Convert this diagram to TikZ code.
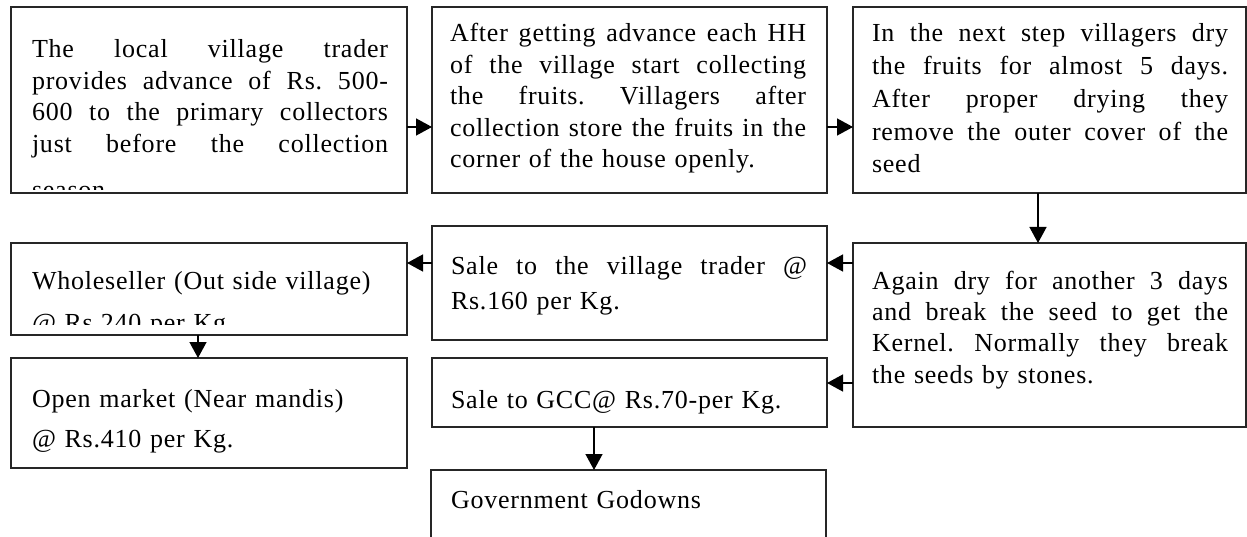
\documentclass[tikz,border=0pt]{standalone}
\usepackage{fontspec}
\setmainfont{Liberation Serif}[LetterSpace=3]
\usetikzlibrary{arrows.meta}
\newlength{\tw}
\setlength{\tw}{356pt}
\newcommand{\jline}[1]{\makebox[\tw][s]{\frenchspacing\spaceskip=0.28em plus 1fill\relax\xspaceskip=\spaceskip #1}}
\setlength{\parindent}{0pt}
\begin{document}
\begin{tikzpicture}[x=1pt,y=-1pt,
  box/.style={draw=black!85, line width=1.5pt, rectangle, inner sep=0pt, outer sep=0pt, anchor=north west},
  txt/.style={anchor=north west, inner sep=0pt, outer sep=0pt, text width=356pt, align=left, font=\fontsize{26}{31.5}\selectfont},
  arr/.style={draw=black, line width=1.4pt, -{Triangle[length=16pt,width=17pt]}}]
\clip (0,0) rectangle (1247,537);
\fill[white] (0,0) rectangle (1247,537);
% boxes
\node[box, minimum width=396pt, minimum height=186pt] (b1) at (11,7) {};
\node[box, minimum width=395pt, minimum height=186pt] (b2) at (432,7) {};
\node[box, minimum width=393pt, minimum height=186pt] (b3) at (853,7) {};
\node[box, minimum width=393pt, minimum height=184pt] (b4) at (853,243) {};
\node[box, minimum width=395pt, minimum height=114pt] (b5) at (432,226) {};
\node[box, minimum width=395pt, minimum height=69pt] (b6) at (432,358) {};
\node[box, minimum width=395pt, minimum height=100pt] (b7) at (431,470) {};
\node[box, minimum width=396pt, minimum height=92pt] (b8) at (11,243) {};
\node[box, minimum width=396pt, minimum height=110pt] (b9) at (11,358) {};
% texts
\begin{scope}
\clip (12,8) rectangle (406,190);
\node[txt] (t1) at (32,34) {\rule{0pt}{24pt}\jline{The local village trader}\\
\jline{provides advance of Rs. 500-}\\
\jline{600 to the primary collectors}\\
\jline{just before the collection}\\[15pt]
season};
\end{scope}
\node[txt] (t2) at (450,18) {\rule{0pt}{24pt}\jline{After getting advance each HH}\\
\jline{of the village start collecting}\\
\jline{the fruits. Villagers after}\\
\jline{collection store the fruits in the}\\
corner of the house openly.};
\node[txt, font=\fontsize{26}{32.7}\selectfont] (t3) at (872,18) {\rule{0pt}{24pt}\jline{In the next step villagers dry}\\
\jline{the fruits for almost 5 days.}\\
\jline{After proper drying they}\\
\jline{remove the outer cover of the}\\
seed};
\node[txt, font=\fontsize{26}{31}\selectfont] (t4) at (872,266) {\rule{0pt}{24pt}\jline{Again dry for another 3 days}\\
\jline{and break the seed to get the}\\
\jline{Kernel. Normally they break}\\
the seeds by stones.};
\node[txt, font=\fontsize{26}{35}\selectfont] (t5) at (451,251) {\rule{0pt}{24pt}\jline{Sale to the village trader @}\\
Rs.160 per Kg.};
\node[txt] (t6) at (451,384) {\rule{0pt}{24pt}Sale to GCC@ Rs.70-per Kg.};
\node[txt] (t7) at (451,484) {\rule{0pt}{24pt}Government Godowns};
\begin{scope}
\clip (12,244) rectangle (406,324);
\node[txt, font=\fontsize{26}{42}\selectfont] (t8) at (32,266) {\rule{0pt}{24pt}Wholeseller (Out side village)\\
@ Rs.240 per Kg.};
\end{scope}
\node[txt, font=\fontsize{26}{40}\selectfont] (t9) at (32,383) {\rule{0pt}{24pt}Open market (Near mandis)\\
@ Rs.410 per Kg.};
% connectors
\coordinate (a1) at ([yshift=-27pt]b1.east);
\draw[arr] (a1) -- (a1 -| b2.west);
\coordinate (a2) at ([yshift=-27pt]b2.east);
\draw[arr] (a2) -- (a2 -| b3.west);
\coordinate (a3) at ([xshift=-11.5pt]b3.south);
\draw[arr] (a3) -- (a3 |- b4.north);
\coordinate (a4) at ([yshift=72pt]b4.west);
\draw[arr] (a4) -- (a4 -| b5.east);
\coordinate (a5) at ([yshift=-48pt]b4.west);
\draw[arr] (a5) -- (a5 -| b6.east);
\coordinate (a6) at ([yshift=20pt]b5.west);
\draw[arr] (a6) -- (a6 -| b8.east);
\coordinate (a7) at ([xshift=-11pt]b8.south);
\draw[arr] (a7) -- (a7 |- b9.north);
\coordinate (a8) at ([xshift=-35.5pt]b6.south);
\draw[arr] (a8) -- (a8 |- b7.north);
\end{tikzpicture}
\end{document}
